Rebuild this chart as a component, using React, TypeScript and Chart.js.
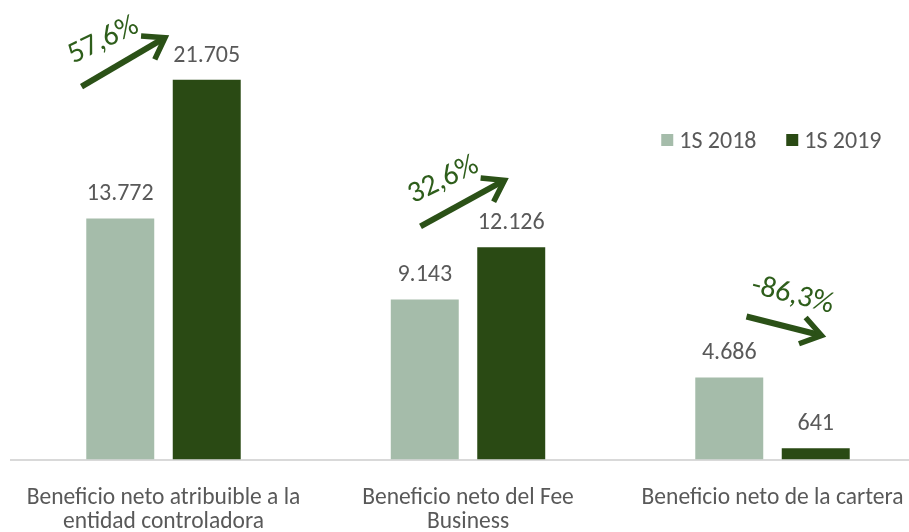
import React, { useEffect, useRef } from "react";
import { Chart, registerables } from "chart.js";
Chart.register(...registerables);

const categories = [
  ["Beneficio neto atribuible a la", "entidad controladora"],
  ["Beneficio neto del Fee", "Business"],
  ["Beneficio neto de la cartera"],
];
const seriesLabels = ["1S 2018", "1S 2019"];
const values2018 = [13772, 9143, 4686];
const values2019 = [21705, 12126, 641];
const changeLabels = ["57,6%", "32,6%", "-86,3%"];

const FONT = 'Carlito, "Liberation Sans", sans-serif';
const COLORS = ["#A5BCAA", "#2A4A14"];

const fmt = (v: number) => String(v).replace(/\B(?=(\d{3})+(?!\d))/g, ".");

// annotation geometry: pixel offsets from category centre / top of the taller bar
const arrowGeom = [
  { sx: -82, sy: 7, tx: 1.5, ty: -42, lx: -60, ly: -39, rot: -26 },
  { sx: -47.5, sy: -21, tx: 36.5, ty: -67, lx: -24.5, ly: -67, rot: -26 },
  { sx: -26, sy: -61, tx: 49, ty: -42, lx: 20, ly: -82, rot: 14 },
];

const overlay = {
  id: "overlay",
  afterDatasetsDraw(chart: any) {
    const ctx = chart.ctx as CanvasRenderingContext2D;
    const x = chart.scales.x;
    const y = chart.scales.y;
    ctx.save();
    // data labels
    ctx.font = `24px ${FONT}`;
    ctx.fillStyle = "#595959";
    ctx.textAlign = "center";
    ctx.textBaseline = "alphabetic";
    chart.data.datasets.forEach((ds: any, di: number) => {
      const meta = chart.getDatasetMeta(di);
      meta.data.forEach((el: any, i: number) => {
        ctx.fillText(fmt(ds.data[i]), el.x, el.y - 18);
      });
    });
    // arrows and change labels
    categories.forEach((_, i) => {
      const cx = x.getPixelForValue(i);
      const top = y.getPixelForValue(Math.max(values2018[i], values2019[i]));
      const g = arrowGeom[i];
      const sx = cx + g.sx, sy = top + g.sy, tx = cx + g.tx, ty = top + g.ty;
      const ang = Math.atan2(ty - sy, tx - sx);
      ctx.strokeStyle = "#2B5117";
      ctx.lineWidth = 6;
      ctx.lineCap = "butt";
      ctx.beginPath();
      ctx.moveTo(sx, sy);
      ctx.lineTo(tx - 4 * Math.cos(ang), ty - 4 * Math.sin(ang));
      ctx.stroke();
      const hl = 24, ha = 0.6;
      ctx.lineJoin = "miter";
      ctx.lineWidth = 5.5;
      ctx.beginPath();
      ctx.moveTo(tx - hl * Math.cos(ang - ha), ty - hl * Math.sin(ang - ha));
      ctx.lineTo(tx, ty);
      ctx.lineTo(tx - hl * Math.cos(ang + ha), ty - hl * Math.sin(ang + ha));
      ctx.stroke();
      ctx.save();
      ctx.translate(cx + g.lx, top + g.ly);
      ctx.rotate((g.rot * Math.PI) / 180);
      ctx.font = `30px ${FONT}`;
      ctx.fillStyle = "#2E5E1B";
      ctx.textAlign = "center";
      ctx.textBaseline = "middle";
      ctx.fillText(changeLabels[i], 0, 0);
      ctx.restore();
    });
    // legend
    const lx = [650, 775];
    ctx.font = `24px ${FONT}`;
    ctx.textAlign = "left";
    ctx.textBaseline = "alphabetic";
    seriesLabels.forEach((lab, i) => {
      const left = chart.chartArea.left + lx[i];
      ctx.fillStyle = COLORS[i];
      ctx.fillRect(left, 134, 12, 12);
      ctx.fillStyle = "#595959";
      ctx.fillText(lab, left + 18, 148);
    });
    ctx.restore();
  },
};

export default function App() {
  const ref = useRef<HTMLCanvasElement>(null);
  useEffect(() => {
    const chart = new Chart(ref.current!, {
      type: "bar",
      data: {
        labels: categories,
        datasets: [
          { label: seriesLabels[0], data: values2018, backgroundColor: COLORS[0] },
          { label: seriesLabels[1], data: values2019, backgroundColor: COLORS[1] },
        ],
      },
      options: {
        animation: false,
        responsive: true,
        maintainAspectRatio: false,
        layout: { padding: { left: 11.25, right: 10.25, top: 22, bottom: 0 } },
        datasets: { bar: { categoryPercentage: 0.568, barPercentage: 0.786 } },
        plugins: { legend: { display: false }, tooltip: { enabled: false } },
        scales: {
          x: {
            grid: { display: false },
            border: { display: true, color: "#D9D9D9", width: 2 },
            ticks: {
              color: "#595959",
              font: { family: FONT, size: 23.5, lineHeight: 1.02 },
              maxRotation: 0,
              autoSkip: false,
              padding: 19,
            },
            afterFit: (s: any) => {
              s.height = 72.5;
            },
          },
          y: { display: false, min: 0, max: 25000 },
        },
      },
      plugins: [overlay],
    });
    return () => chart.destroy();
  }, []);
  return (
    <div style={{ position: "fixed", left: 0, top: 0, width: 935, height: 532, background: "#fff" }}>
      <canvas ref={ref} />
    </div>
  );
}
